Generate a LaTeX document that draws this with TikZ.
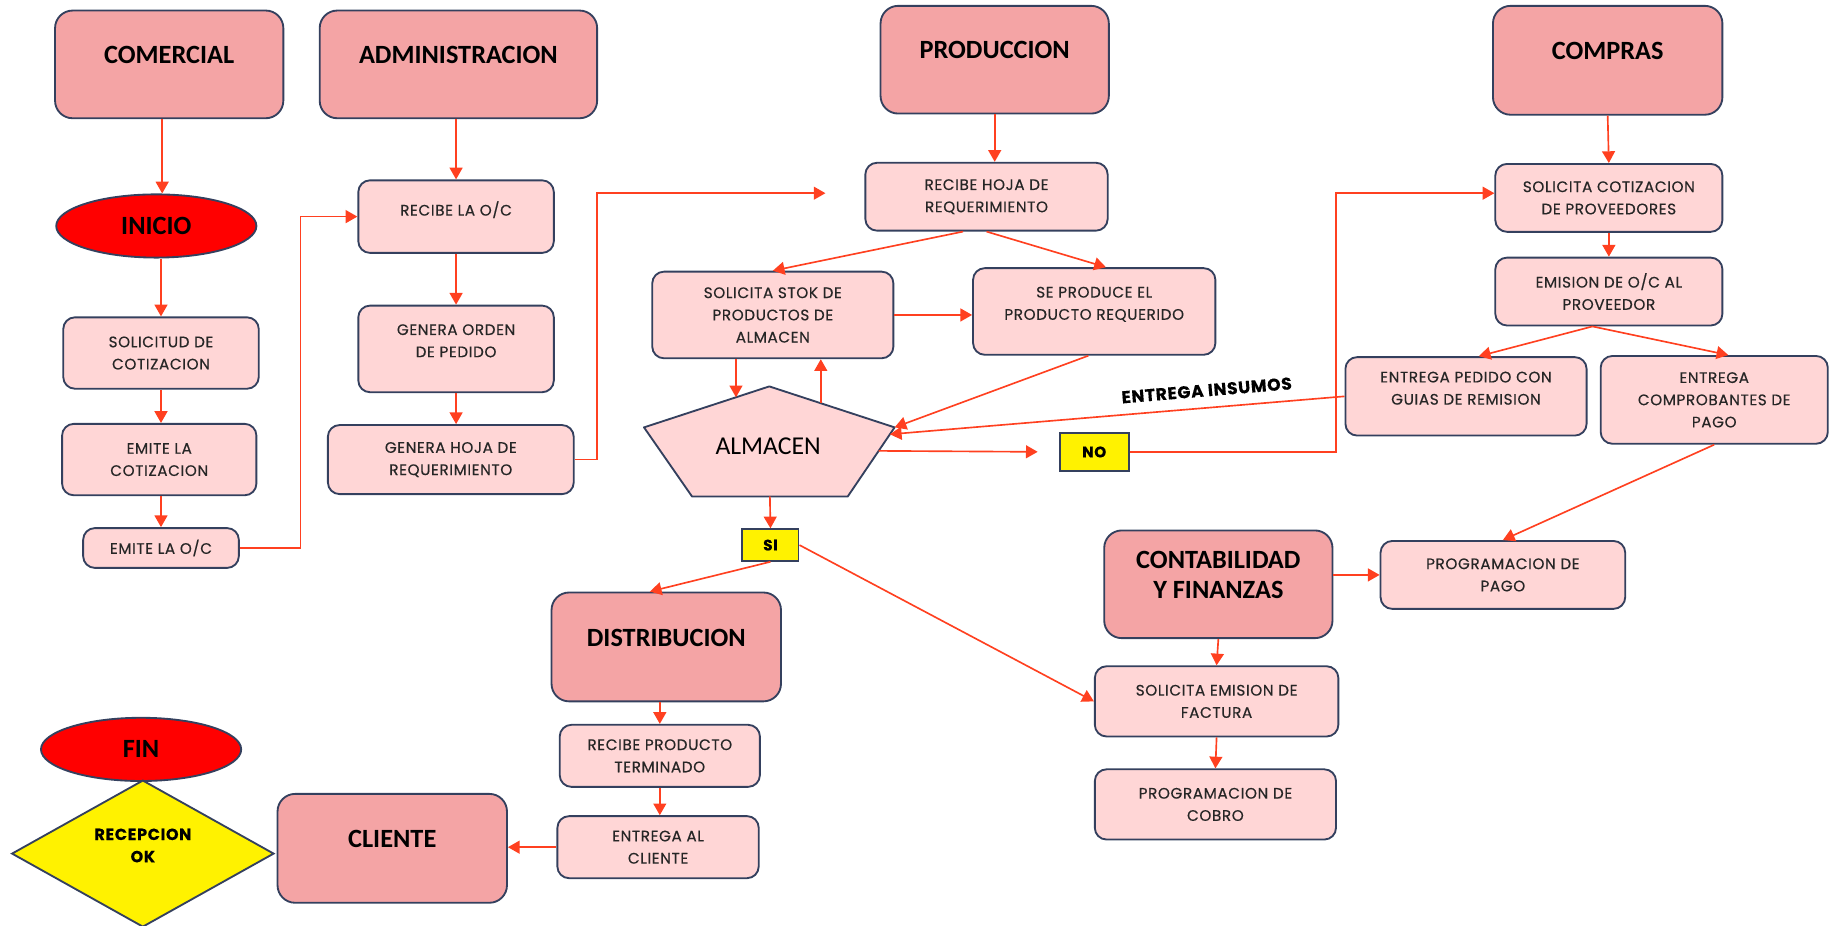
\documentclass[tikz,border=0pt]{standalone}
\usepackage{fontspec}
\setmainfont{Carlito}
\newfontfamily\gothic[FakeBold=0.4, LetterSpace=4]{Poppins}
\usetikzlibrary{arrows.meta,calc,shapes.geometric}

\definecolor{headpink}{RGB}{244,164,165}
\definecolor{taskpink}{RGB}{255,214,214}
\definecolor{edgeblue}{RGB}{52,64,94}
\definecolor{arrowred}{RGB}{255,64,32}

\begin{document}
\begin{tikzpicture}
  [x=0.02cm, y=-0.02cm]
  \tikzstyle{box} = [draw=edgeblue, line width=0.9pt, align=center];
  \tikzstyle{area_box} = [box, rectangle, rounded corners=0.3cm, fill=headpink, font=\fontsize{12.8}{14.7}\selectfont\bfseries, text depth=0.32cm];
  \tikzstyle{task_box} = [box, rectangle, rounded corners=0.2cm, fill=taskpink, text=black!85, font=\gothic\fontsize{7.4}{10.8}\selectfont];
  \tikzstyle{lifted} = [text depth=0.28cm];
  \tikzstyle{end_oval} = [box, ellipse, fill=red, inner sep=0pt, font=\fontsize{12.8}{14.7}\selectfont\bfseries];
  \tikzstyle{choice} = [box, fill=yellow, inner sep=0pt, font=\gothic\fontsize{7.4}{10.8}\selectfont\bfseries];
  \tikzstyle{link} = [draw=arrowred, line width=0.8pt, -{Triangle[length=0.2cm, width=0.22cm]}];

  \useasboundingbox (0,0) rectangle (1568,790);

  % areas
  \node[area_box, minimum width=3.9cm, minimum height=1.84cm] (comercial) at (144.5, 55) {COMERCIAL};
  \node[area_box, minimum width=4.74cm, minimum height=1.84cm] (admin) at (391.5, 55) {ADMINISTRACION};
  \node[area_box, minimum width=3.9cm, minimum height=1.84cm] (produccion) at (849.5, 51) {PRODUCCION};
  \node[area_box, minimum width=3.92cm, minimum height=1.86cm] (compras) at (1373, 51.5) {COMPRAS};
  \node[area_box, minimum width=3.9cm, minimum height=1.84cm] (contab) at (1040.5, 499) {CONTABILIDAD\\Y FINANZAS};
  \node[area_box, minimum width=3.92cm, minimum height=1.86cm] (distrib) at (569, 552.5) {DISTRIBUCION};
  \node[area_box, minimum width=3.92cm, minimum height=1.86cm] (cliente) at (335, 724.5) {CLIENTE};

  \node[end_oval, minimum width=3.42cm, minimum height=1.08cm] (inicio) at (133.5, 193) {INICIO};
  \node[end_oval, minimum width=3.42cm, minimum height=1.08cm] (fin) at (120.5, 640) {FIN};
  \node[choice, diamond, lifted, minimum width=4.48cm, minimum height=2.44cm, font=\gothic\fontsize{7.8}{10.8}\selectfont\bfseries] (recepcion) at (122, 729) {RECEPCION\\OK};

  % comercial
  \node[task_box, minimum width=3.34cm, minimum height=1.22cm] (sol_cot) at (137.5, 301.5) {SOLICITUD DE\\COTIZACION};
  \node[task_box, minimum width=3.32cm, minimum height=1.22cm] (emite_cot) at (136, 392.5) {EMITE LA\\COTIZACION};
  \node[task_box, minimum width=2.66cm, minimum height=0.68cm] (emite_oc) at (137.5, 468) {EMITE LA O/C};

  % administracion
  \node[task_box, lifted, minimum width=3.34cm, minimum height=1.24cm] (recibe_oc) at (389.5, 185) {RECIBE LA O/C};
  \node[task_box, lifted, minimum width=3.34cm, minimum height=1.48cm] (genera_orden) at (389.5, 298) {GENERA ORDEN\\DE PEDIDO};
  \node[task_box, minimum width=4.2cm, minimum height=1.18cm] (genera_hoja) at (385, 392.5) {GENERA HOJA DE\\REQUERIMIENTO};

  % produccion
  \node[task_box, minimum width=4.14cm, minimum height=1.16cm] (recibe_hoja) at (842.5, 168) {RECIBE HOJA DE\\REQUERIMIENTO};
  \node[task_box, minimum width=4.12cm, minimum height=1.48cm] (stok) at (660, 269) {SOLICITA STOK DE\\PRODUCTOS DE\\ALMACEN};
  \node[task_box, lifted, minimum width=4.14cm, minimum height=1.48cm] (se_produce) at (934.5, 266) {SE PRODUCE EL\\PRODUCTO REQUERIDO};

  \coordinate (alm_t) at (657, 330);
  \coordinate (alm_r) at (764, 365);
  \coordinate (alm_br) at (724, 424);
  \coordinate (alm_bl) at (591, 424);
  \coordinate (alm_l) at (550, 365);
  \draw[box, fill=taskpink, line join=round] (alm_t) -- (alm_r) -- (alm_br) -- (alm_bl) -- (alm_l) -- cycle;
  \node[font=\fontsize{12.5}{14}\selectfont] (almacen) at (656, 381) {ALMACEN};

  \node[choice, minimum width=1.18cm, minimum height=0.64cm] (no) at (934.5, 386) {NO};
  \node[choice, minimum width=0.96cm, minimum height=0.54cm] (si) at (658, 465.5) {SI};

  % compras
  \node[task_box, minimum width=3.88cm, minimum height=1.16cm] (sol_cot_prov) at (1374, 169) {SOLICITA COTIZACION\\DE PROVEEDORES};
  \node[task_box, minimum width=3.88cm, minimum height=1.16cm] (emision) at (1374, 249) {EMISION DE O/C AL\\PROVEEDOR};
  \node[task_box, lifted, minimum width=4.12cm, minimum height=1.34cm] (entrega_pedido) at (1252, 338.5) {ENTREGA PEDIDO CON\\GUIAS DE REMISION};
  \node[task_box, minimum width=3.88cm, minimum height=1.5cm] (comprobantes) at (1464, 341.5) {ENTREGA\\COMPROBANTES DE\\PAGO};

  % contabilidad
  \node[task_box, minimum width=4.18cm, minimum height=1.16cm] (prog_pago) at (1283.5, 491) {PROGRAMACION DE\\PAGO};
  \node[task_box, minimum width=4.16cm, minimum height=1.2cm] (sol_factura) at (1039, 599) {SOLICITA EMISION DE\\FACTURA};
  \node[task_box, minimum width=4.12cm, minimum height=1.2cm] (prog_cobro) at (1038, 687) {PROGRAMACION DE\\COBRO};

  % distribucion
  \node[task_box, minimum width=3.42cm, minimum height=1.06cm] (recibe_prod) at (563.5, 645.5) {RECIBE PRODUCTO\\TERMINADO};
  \node[task_box, minimum width=3.44cm, minimum height=1.06cm] (entrega_cli) at (562, 723.5) {ENTREGA AL\\CLIENTE};

  % arrows
  \draw[link] ([xshift=0.1cm]comercial.south -| inicio.north) -- ([xshift=0.1cm]inicio.north);
  \draw[link] (inicio.south -| sol_cot.north) -- (sol_cot.north);
  \draw[link] (sol_cot.south) -- (sol_cot.south |- emite_cot.north);
  \draw[link] (emite_cot.south -| emite_oc.north) -- (emite_oc.north);
  \draw[link] (emite_oc.east) -- ++(52,0) |- (recibe_oc.west);

  \draw[link] (admin.south -| recibe_oc.north) -- (recibe_oc.north);
  \draw[link] (recibe_oc.south) -- (genera_orden.north);
  \draw[link] (genera_orden.south) -- (genera_orden.south |- genera_hoja.north);
  \coordinate (hoja_in) at (705, 165);
  \draw[link] (genera_hoja.east) -- ++(19,0) |- (hoja_in);

  \draw[link] (produccion.south) -- (produccion.south |- recibe_hoja.north);
  \draw[link] ([xshift=-0.4cm]recibe_hoja.south) -- (stok.north);
  \draw[link] (recibe_hoja.south) -- ([xshift=0.2cm]se_produce.north);
  \draw[link] (stok.east) -- (stok.east -| se_produce.west);
  \coordinate (alm_in) at ($(alm_l)!0.734!(alm_t)$);
  \coordinate (alm_out) at ($(alm_t)!0.411!(alm_r)$);
  \draw[link] (stok.south -| alm_in) -- (alm_in);
  \draw[link] (alm_out) -- (alm_out |- stok.south);
  \draw[link] ([xshift=-0.1cm]se_produce.south) -- (alm_r);
  \draw[link] (entrega_pedido.west) -- node[pos=0.3, sloped, above=0.18cm, inner sep=0pt, font=\gothic\fontsize{8.3}{9}\selectfont\bfseries] (insumos) {ENTREGA INSUMOS} ($(alm_r)!0.1!(alm_br)$);
  \draw[link, shorten >=0.36cm] ($(alm_r)!0.34!(alm_br)$) -- (no.west);
  \draw[link] (no.east) -- ++(176,0) |- ([yshift=0.08cm]sol_cot_prov.west);
  \draw[link] ($(alm_bl)!0.5!(alm_br)$) -- (si.north);
  \draw[link] (si.south) -- ([xshift=-0.28cm]distrib.north);
  \draw[link] (si.east) -- (sol_factura.west);

  \draw[link] (compras.south) -- (sol_cot_prov.north);
  \draw[link] (sol_cot_prov.south) -- (emision.north);
  \draw[link] ([xshift=-0.28cm]emision.south) -- ([xshift=0.22cm]entrega_pedido.north);
  \draw[link] ([xshift=-0.28cm]emision.south) -- ([xshift=0.24cm]comprobantes.north);
  \draw[link] (comprobantes.south) -- (prog_pago.north);

  \draw[link] (prog_pago.west -| contab.east) -- (prog_pago.west);
  \draw[link] (contab.south) -- (sol_factura.north);
  \draw[link] (sol_factura.south) -- (prog_cobro.north);

  \draw[link] (distrib.south -| recibe_prod.north) -- (recibe_prod.north);
  \draw[link] (recibe_prod.south) -- (recibe_prod.south |- entrega_cli.north);
  \draw[link] (entrega_cli.west) -- (entrega_cli.west -| cliente.east);

\end{tikzpicture}
\end{document}
